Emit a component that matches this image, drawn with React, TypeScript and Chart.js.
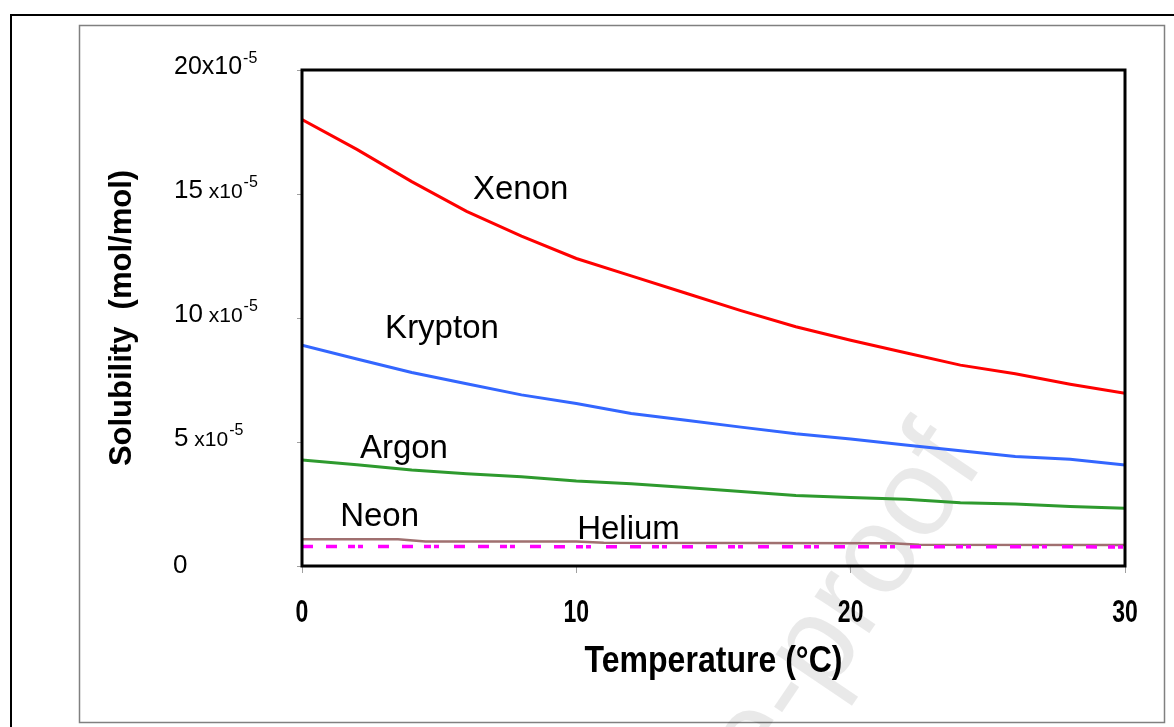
import React, { useEffect, useRef } from "react";
import { Chart, registerables } from "chart.js";

Chart.register(...registerables);

// ---- data (solubility in units of 1e-5 mol/mol) ----
const temps = [0, 2, 4, 6, 8, 10, 12, 14, 16, 18, 20, 22, 24, 26, 28, 30];
const xenon = [18.0, 16.8, 15.5, 14.3, 13.3, 12.4, 11.7, 11.0, 10.3, 9.65, 9.1, 8.6, 8.1, 7.75, 7.33, 6.96];
const krypton = [8.9, 8.35, 7.8, 7.35, 6.9, 6.55, 6.15, 5.88, 5.6, 5.33, 5.12, 4.88, 4.65, 4.42, 4.3, 4.07];
const argon = [4.27, 4.08, 3.87, 3.72, 3.6, 3.43, 3.32, 3.17, 3.0, 2.84, 2.76, 2.69, 2.55, 2.5, 2.4, 2.33];
const neonTemps = [0, 3.5, 4.5, 10, 11, 21.5, 22.5, 30];
const neon = [1.08, 1.08, 0.99, 0.99, 0.94, 0.92, 0.86, 0.85];
const heliumTemps = [0, 10, 20, 30];
const helium = [0.79, 0.78, 0.78, 0.77];

const xTicks = [0, 10, 20, 30];
const yTicks = [0, 5, 10, 15, 20];

const seriesNames = ["Xenon", "Krypton", "Argon", "Neon", "Helium"];
const labelT = [6.23, 3.03, 2.11, 1.39, 10.03];
const labelV = [14.8, 9.18, 4.35, 1.61, 1.09];

const xTitle = "Temperature (°C)";
const yTitle = "Solubility  (mol/mol)";
const watermark = "Journal Pre-proof";

const FONT = "'Liberation Sans', Arial, sans-serif";

function pts(xs: number[], ys: number[]) {
  return xs.map((x, i) => ({ x, y: ys[i] }));
}

const decorPlugin = {
  id: "decor",
  beforeDraw(chart: any) {
    const ctx = chart.ctx;
    ctx.save();
    ctx.fillStyle = "#fff";
    ctx.fillRect(0, 0, chart.width, chart.height);
    // outer black frame (open to right/bottom)
    ctx.strokeStyle = "#000";
    ctx.lineWidth = 2;
    ctx.beginPath();
    ctx.moveTo(11, chart.height);
    ctx.lineTo(11, 15);
    ctx.lineTo(chart.width, 15);
    ctx.stroke();
    // inner grey frame
    ctx.strokeStyle = "#808080";
    ctx.lineWidth = 1.5;
    ctx.strokeRect(79.5, 25.5, 1085, 697);
    // faint watermark
    ctx.save();
    ctx.translate(985, 462);
    ctx.rotate((-56 * Math.PI) / 180);
    ctx.font = `125px ${FONT}`;
    ctx.fillStyle = "rgba(0,0,0,0.085)";
    ctx.textAlign = "right";
    ctx.textBaseline = "alphabetic";
    ctx.fillText(watermark, 0, 0);
    ctx.restore();
    ctx.restore();
  },
  afterDatasetsDraw(chart: any) {
    const ctx = chart.ctx;
    const ca = chart.chartArea;
    const xs = chart.scales.x;
    const ys = chart.scales.y;
    ctx.save();
    // plot box
    ctx.strokeStyle = "#000";
    ctx.lineWidth = 3;
    ctx.strokeRect(ca.left, ca.top, ca.right - ca.left, ca.bottom - ca.top);

    // y tick labels
    ctx.fillStyle = "#000";
    ctx.textBaseline = "alphabetic";
    ctx.textAlign = "left";
    yTicks.forEach((v) => {
      const py = ys.getPixelForValue(v) + 4;
      let x = 174;
      if (v === 0) {
        ctx.font = `26px ${FONT}`;
        ctx.fillText("0", 173, py + 3);
        return;
      }
      if (v === 20) {
        ctx.font = `25px ${FONT}`;
        ctx.fillText("20x10", x, py);
        x += ctx.measureText("20x10").width;
      } else {
        ctx.font = `26px ${FONT}`;
        const s = String(v);
        ctx.fillText(s, x, py);
        x += ctx.measureText(s).width;
        ctx.font = `21px ${FONT}`;
        ctx.fillText(" x10", x, py);
        x += ctx.measureText(" x10").width;
      }
      ctx.font = `16px ${FONT}`;
      ctx.fillText("-5", x + 1, py - 11);
    });

    // x tick labels (bold, condensed)
    ctx.textAlign = "center";
    ctx.textBaseline = "middle";
    xTicks.forEach((t) => {
      const px = xs.getPixelForValue(t);
      ctx.save();
      ctx.translate(px, 613);
      ctx.scale(0.72, 1);
      ctx.font = `bold 32px ${FONT}`;
      ctx.fillText(String(t), 0, 0);
      ctx.restore();
    });

    // x title
    ctx.save();
    ctx.translate((ca.left + ca.right) / 2, 662);
    ctx.scale(0.89, 1);
    ctx.font = `bold 36px ${FONT}`;
    ctx.fillText(xTitle, 0, 0);
    ctx.restore();

    // y title
    ctx.save();
    ctx.translate(122, (ca.top + ca.bottom) / 2);
    ctx.rotate(-Math.PI / 2);
    ctx.font = `bold 31px ${FONT}`;
    ctx.fillText(yTitle, 0, 0);
    ctx.restore();

    // series labels
    ctx.textAlign = "left";
    ctx.textBaseline = "alphabetic";
    ctx.font = `33px ${FONT}`;
    seriesNames.forEach((n, i) => {
      ctx.fillText(n, xs.getPixelForValue(labelT[i]), ys.getPixelForValue(labelV[i]));
    });
    ctx.restore();
  },
};

export default function App() {
  const ref = useRef<HTMLCanvasElement | null>(null);
  useEffect(() => {
    document.body.style.margin = "0";
    const canvas = ref.current!;
    const chart = new Chart(canvas, {
      type: "line",
      data: {
        datasets: [
          { label: "Helium", data: pts(heliumTemps, helium), borderColor: "#FF00FF", borderWidth: 3.5, borderDash: [11, 13, 11, 11, 7, 3, 5, 15] },
          { label: "Neon", data: pts(neonTemps, neon), borderColor: "#A07070", borderWidth: 2.5 },
          { label: "Argon", data: pts(temps, argon), borderColor: "#2E9A2E", borderWidth: 3 },
          { label: "Krypton", data: pts(temps, krypton), borderColor: "#3366FF", borderWidth: 3 },
          { label: "Xenon", data: pts(temps, xenon), borderColor: "#FF0000", borderWidth: 3 },
        ],
      },
      options: {
        animation: false,
        responsive: false,
        parsing: false,
        layout: { padding: { left: 297, top: 70, right: 49, bottom: 154 } },
        plugins: { legend: { display: false }, tooltip: { enabled: false } },
        elements: { point: { radius: 0 }, line: { tension: 0, borderCapStyle: "butt" } },
        scales: {
          x: {
            type: "linear",
            min: 0,
            max: 30,
            ticks: { display: false, stepSize: 10 },
            grid: { display: true, drawOnChartArea: false, drawTicks: true, tickLength: 7, color: "#a0a0a0", lineWidth: 1 },
            border: { display: false },
          },
          y: {
            type: "linear",
            min: 0,
            max: 20,
            ticks: { display: false, stepSize: 5 },
            grid: { display: true, drawOnChartArea: false, drawTicks: true, tickLength: 5, color: "#a0a0a0", lineWidth: 1 },
            border: { display: false },
          },
        },
      },
      plugins: [decorPlugin],
    });
    return () => chart.destroy();
  }, []);
  return (
    <div style={{ position: "absolute", left: 0, top: 0, width: 1174, height: 727 }}>
      <canvas ref={ref} width={1174} height={727} style={{ display: "block" }} />
    </div>
  );
}
